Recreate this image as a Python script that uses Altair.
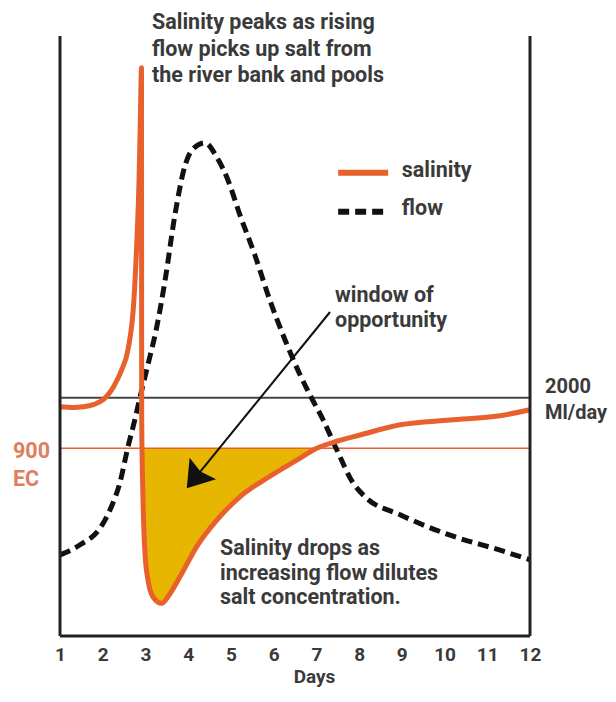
import altair as alt
import pandas as pd

# ---- data ----
sal_day = [1.0, 1.3, 1.55, 1.8, 1.94, 2.1, 2.25, 2.44, 2.59, 2.73, 2.80, 2.85, 2.88, 2.907,
           2.912, 2.943, 2.989, 3.06, 3.177, 3.38, 3.55, 3.81, 4.20, 4.67, 5.21, 5.91, 6.54,
           7.01, 7.5, 8.02, 8.96, 10.13, 11.3, 12.0]
sal_val = [38.2, 38.1, 38.2, 38.6, 39.05, 40.0, 41.5, 44.3, 47.7, 56, 66, 76, 86, 94.7,
           36, 22.7, 13.8, 9.3, 6.5, 5.45, 6.8, 9.9, 14.9, 19.3, 23.2, 26.6, 29.3,
           31.3, 32.5, 33.5, 35.2, 36.0, 36.7, 37.7]

flow_day = [1.0, 1.47, 1.94, 2.2, 2.4, 2.59, 2.75, 2.87, 3.05, 3.25, 3.46, 3.69, 3.93, 4.09,
            4.39, 4.67, 4.93, 5.21, 5.56, 5.91, 6.27, 6.62, 6.9, 7.16, 7.48, 7.86, 8.14,
            8.96, 10.13, 11.3, 12.0]
flow_val = [13.5, 15.2, 18, 21.5, 25.5, 31.5, 36, 39.7, 45, 51, 59.3, 70.2, 78.5, 81,
            82.2, 79.8, 76, 70.2, 63.5, 56, 49.3, 43.5, 39.5, 36, 31, 25.5, 23.2,
            20.2, 16.8, 14.3, 12.7]

day_ticks = list(range(1, 13))
flow_2000 = 39.7   # 2000 Ml/day level
ec_900 = 31.3      # 900 EC level

ORANGE = "#E8602C"
YELLOW = "#E7B600"
TXT = "#3a3a3a"
SALMON = "#E07E5C"
FONT = "Roboto"
FS = 21.5

sal = pd.DataFrame({"day": sal_day, "val": sal_val})
flow = pd.DataFrame({"day": flow_day, "val": flow_val})

XS = alt.Scale(domain=[1, 12], nice=False, zero=False)
YS = alt.Scale(domain=[0, 100], nice=False, zero=False)
XAX = alt.Axis(values=day_ticks, title="Days", grid=False, domain=False, ticks=False,
               labelFlush=False, labelOverlap=False,
               labelFontSize=19, labelFont=FONT, labelFontWeight="bold",
               labelColor=TXT, labelPadding=9, titleFontSize=19, titleFont=FONT,
               titleFontWeight="bold", titleColor=TXT, titlePadding=3,
               titleX=254, titleAlign="center")
X = alt.X("day:Q", scale=XS, axis=XAX, title="Days")
Y = alt.Y("val:Q", scale=YS, axis=None)

fill = alt.Chart(sal).transform_filter(
    "datum.day >= 2.912 && datum.day <= 7.01"
).transform_calculate(
    lowv="min(datum.val, %f)" % ec_900, topv="%f" % ec_900
).mark_area(color=YELLOW, interpolate="monotone").encode(
    x=X, y=alt.Y("lowv:Q", scale=YS, axis=None), y2="topv:Q")

hl = pd.DataFrame({"day": [1, 1], "day2": [12, 12], "val": [flow_2000, ec_900]})
line2000 = alt.Chart(hl.iloc[[0]]).mark_rule(color="#444", strokeWidth=2).encode(
    x=X, x2="day2:Q", y=Y)
line900 = alt.Chart(hl.iloc[[1]]).mark_rule(color=ORANGE, strokeWidth=1.5).encode(
    x=X, x2="day2:Q", y=Y)

flow_line = alt.Chart(flow).mark_line(color="#111", strokeWidth=5, strokeDash=[11, 6],
                                      interpolate="monotone").encode(x=X, y=Y)
sal_line = alt.Chart(sal).mark_line(color=ORANGE, strokeWidth=5, interpolate="monotone",
                                    strokeJoin="round").encode(x=X, y=Y)

borders = pd.DataFrame({"day": [1, 12, 1], "day2": [1, 12, 12], "val": [0, 0, 0], "val2": [100, 100, 0]})
border = alt.Chart(borders).mark_rule(color="#222", strokeWidth=3).encode(
    x=X, x2="day2:Q", y=Y, y2="val2:Q")

# legend
leg = pd.DataFrame({"day": [7.51], "day2": [8.68], "val": [77.2]})
leg2 = pd.DataFrame({"day": [7.51], "day2": [8.68], "val": [70.7]})
leg_sal = alt.Chart(leg).mark_rule(color=ORANGE, strokeWidth=6).encode(x=X, x2="day2:Q", y=Y)
leg_flow = alt.Chart(leg2).mark_rule(color="#111", strokeWidth=6, strokeDash=[11, 6]).encode(
    x=X, x2="day2:Q", y=Y)

# arrow
arr = pd.DataFrame({"day": [7.32], "val": [54.0], "day2": [4.155], "val2": [26.27]})
arrow_line = alt.Chart(arr).mark_rule(color="#111", strokeWidth=2).encode(
    x=X, y=Y, x2="day2:Q", y2="val2:Q")
head = pd.DataFrame({"day": [4.155], "val": [26.27]})
arrow_head = alt.Chart(head).mark_point(
    shape="M0,-1 L1.33,1 L0,0.7 L-1.33,1 Z", size=655, angle=219, filled=True,
    color="#111", opacity=1).encode(x=X, y=Y)

def txt(df, color=TXT, size=FS, lh=26):
    return alt.Chart(df).mark_text(align="left", baseline="alphabetic", font=FONT,
                                   fontWeight="bold", fontSize=size, color=color,
                                   lineBreak="\n", lineHeight=lh).encode(
        x=X, y=Y, text="t:N")

t_peak = txt(pd.DataFrame({"day": [3.153], "val": [101.1],
    "t": ["Salinity peaks as rising\nflow picks up salt from\nthe river bank and pools"]}), lh=26.5)
t_drop = txt(pd.DataFrame({"day": [4.745], "val": [13.5],
    "t": ["Salinity drops as\nincreasing flow dilutes\nsalt concentration."]}), lh=24.5)
t_win = txt(pd.DataFrame({"day": [7.436], "val": [55.67], "t": ["window of\nopportunity"]}), lh=25.5)
t_leg = alt.Chart(pd.DataFrame({"day": [9.0, 9.0], "val": [77.2, 70.8], "t": ["salinity", "flow"]})).mark_text(
    align="left", baseline="middle", font=FONT, fontWeight="bold", fontSize=FS, color=TXT,
    dy=-2).encode(x=X, y=Y, text="t:N")
t_2000 = txt(pd.DataFrame({"day": [12.35], "val": [40.5], "t": ["2000\nMl/day"]}), size=20, lh=25.5)
t_900 = txt(pd.DataFrame({"day": [-0.1], "val": [29.67], "t": ["900\nEC"]}), color=SALMON, lh=28)

chart = alt.layer(
    fill, line2000, line900, flow_line, sal_line, border, leg_sal, leg_flow,
    arrow_line, arrow_head, t_peak, t_drop, t_win, t_leg, t_2000, t_900
).properties(
    width=470, height=600,
    autosize=alt.AutoSizeParams(type="none"),
    padding={"left": 52, "top": 28, "right": 78, "bottom": 53},
    background="white"
).configure_view(strokeWidth=0)

chart.save("out.html", embed_options={"renderer": "svg", "actions": False})
